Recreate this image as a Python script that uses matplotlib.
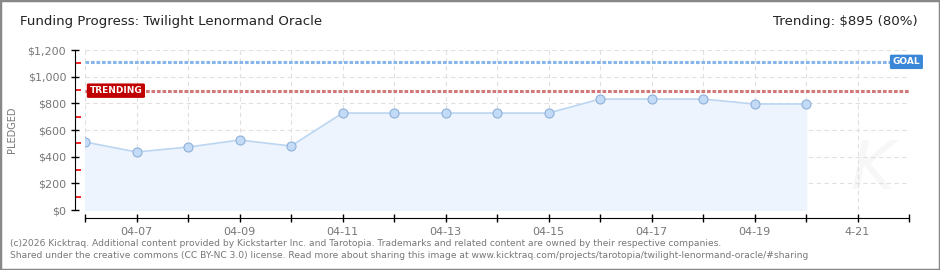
import matplotlib.pyplot as plt
from matplotlib.patches import Rectangle

days = ["04-06", "04-07", "04-08", "04-09", "04-10", "04-11", "04-12", "04-13",
        "04-14", "04-15", "04-16", "04-17", "04-18", "04-19", "04-20", "04-21", "04-22"]
tick_labels = ["", "04-07", "", "04-09", "", "04-11", "", "04-13",
               "", "04-15", "", "04-17", "", "04-19", "", "4-21", ""]
pledged = [510, 435, 472, 525, 480, 727, 727, 727, 727, 727, 832, 832, 832, 795, 795]
goal = 1111
trending = 895

fig = plt.figure(figsize=(9.4, 2.7), dpi=100)
fig.patches.append(Rectangle((0, 0), 1, 1, transform=fig.transFigure, fill=False,
                             edgecolor="#888888", linewidth=2.5))

ax = fig.add_axes([85 / 940, 1 - 210 / 270, 824 / 940, 160 / 270])
x = list(range(len(pledged)))

ax.fill_between(x, pledged, 0, color="#edf4fd", zorder=1)
ax.plot(x, pledged, color="#bcd6f2", linewidth=1.2, zorder=2)
ax.plot(x, pledged, linestyle="none", marker="o", markersize=6.5,
        markerfacecolor="#c3dbf6", markeredgecolor="#8eb1d9", markeredgewidth=0.8, zorder=3)

ax.axhline(goal, color="#86b6ea", linewidth=2.2, linestyle=(0, (1.2, 0.6)), zorder=4)
ax.axhline(trending, color="#d27878", linewidth=2.2, linestyle=(0, (1.2, 0.6)), zorder=4)

ax.text(15.95, goal, "GOAL", color="white", fontsize=6.5, fontweight="bold",
        ha="center", va="center", zorder=5,
        bbox=dict(boxstyle="round,pad=0.3,rounding_size=0.15", facecolor="#3a87d8", edgecolor="none"))
ax.text(0.6, trending, "TRENDING", color="white", fontsize=6.5, fontweight="bold",
        ha="center", va="center", zorder=5,
        bbox=dict(boxstyle="round,pad=0.3,rounding_size=0.15", facecolor="#c00000", edgecolor="none"))

ax.set_xlim(0, len(days) - 1)
ax.set_ylim(0, 1200)
ax.set_xticks(range(len(days)))
ax.set_xticklabels(tick_labels)
ax.set_yticks(range(0, 1201, 200))
ax.set_yticklabels(["$0", "$200", "$400", "$600", "$800", "$1,000", "$1,200"])
ax.set_yticks(range(100, 1200, 200), minor=True)

ax.grid(True, which="major", color="#e0e0e0", linestyle=(0, (4, 3)), linewidth=0.8, zorder=0)
ax.set_axisbelow(True)

for side in ["top", "right"]:
    ax.spines[side].set_visible(False)
ax.spines["left"].set_position(("outward", 7))
ax.spines["bottom"].set_position(("outward", 6))
ax.tick_params(axis="both", which="major", direction="inout", length=6, width=1,
               labelcolor="#777777", labelsize=8)
ax.tick_params(axis="y", which="minor", direction="in", length=4, width=1.2, color="#ee0000")
ax.tick_params(axis="x", pad=3)

ax.set_ylabel("PLEDGED", fontsize=7, color="#777777", labelpad=8)

ax.text(0.955, 0.25, "K", transform=ax.transAxes, fontsize=48, color="#f7f7f7",
        style="italic", ha="center", va="center", zorder=0)

fig.text(20 / 940, 1 - 22 / 270, "Funding Progress: Twilight Lenormand Oracle",
         fontsize=9.6, color="#222222", va="center")
fig.text(918 / 940, 1 - 22 / 270, "Trending: $895 (80%)",
         fontsize=9.6, color="#222222", va="center", ha="right")
fig.text(10 / 940, 1 - 243 / 270,
         "(c)2026 Kicktraq. Additional content provided by Kickstarter Inc. and Tarotopia. "
         "Trademarks and related content are owned by their respective companies.",
         fontsize=6.6, color="#777777", va="center")
fig.text(10 / 940, 1 - 256 / 270,
         "Shared under the creative commons (CC BY-NC 3.0) license. Read more about sharing "
         "this image at www.kicktraq.com/projects/tarotopia/twilight-lenormand-oracle/#sharing",
         fontsize=6.6, color="#777777", va="center")

fig.savefig("out.png", dpi=100)
